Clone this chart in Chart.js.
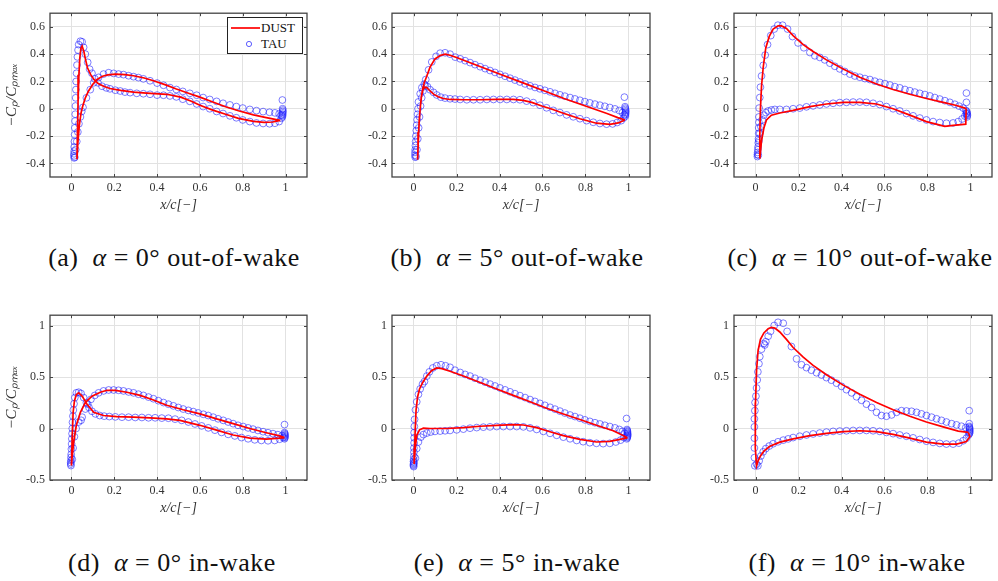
<!DOCTYPE html>
<html lang="en">
<head>
<meta charset="UTF-8">
<title>Pressure coefficient, DUST vs TAU</title>
<script src="https://cdn.jsdelivr.net/npm/chart.js@4.4.0/dist/chart.umd.min.js"></script>
<style>
  body { margin: 0; background: #fff; }
  #fig { position: relative; width: 998px; height: 581px; overflow: hidden; font-family: "Liberation Serif", serif; }
  #fig canvas { position: absolute; }
  .cap { position: absolute; width: 420px; text-align: center; font-size: 26px; letter-spacing: 0.5px; line-height: 30px; color: #111; white-space: nowrap; }
  .legend { position: absolute; left: 227px; top: 17px; width: 74px; height: 35px; border: 1px solid #222; background: #fff; font-size: 13px; color: #111; }
  .legend div { position: absolute; left: 0; height: 16px; line-height: 16px; }
  .legend span { position: absolute; left: 33px; }
</style>
</head>
<body>
<div id="fig"></div>

<script>
// tick values
const xTicks = [0, 0.2, 0.4, 0.6, 0.8, 1];
const yTicksTop = [-0.4, -0.2, 0, 0.2, 0.4, 0.6];
const yTicksBot = [-0.5, 0, 0.5, 1];

// (a) alpha = 0, out-of-wake  -- DUST surfaces, TAU points  [x/c, -Cp/Cpmax]
const aDust1 = [[0.026,-0.37],[0.028,-0.2],[0.031,0.05],[0.035,0.25],[0.039,0.37],[0.044,0.44],[0.05,0.46],[0.058,0.42],[0.066,0.36],[0.075,0.3],[0.09,0.25],[0.105,0.215],[0.125,0.185],[0.15,0.165],[0.18,0.148],[0.23,0.135],[0.29,0.122],[0.35,0.115],[0.445,0.106],[0.51,0.085],[0.56,0.055],[0.6,0.026],[0.66,-0.01],[0.72,-0.04],[0.78,-0.07],[0.85,-0.092],[0.9,-0.1],[0.94,-0.097],[0.975,-0.085]];
const aDust2 = [[0.026,-0.37],[0.03,-0.25],[0.037,-0.12],[0.045,-0.03],[0.053,0.02],[0.065,0.08],[0.08,0.13],[0.1,0.18],[0.12,0.215],[0.145,0.238],[0.17,0.248],[0.205,0.253],[0.25,0.25],[0.29,0.242],[0.34,0.225],[0.383,0.205],[0.44,0.175],[0.49,0.145],[0.55,0.112],[0.6,0.085],[0.66,0.05],[0.72,0.015],[0.78,-0.015],[0.85,-0.045],[0.91,-0.065],[0.957,-0.08],[0.975,-0.085]];
const aTau1 = [[0.013,-0.36],[0.012,-0.345],[0.012,-0.33],[0.013,-0.31],[0.013,-0.28],[0.014,-0.24],[0.015,-0.19],[0.016,-0.14],[0.017,-0.09],[0.018,-0.04],[0.019,0.02],[0.02,0.08],[0.021,0.14],[0.022,0.2],[0.024,0.26],[0.026,0.32],[0.028,0.38],[0.031,0.43],[0.034,0.47],[0.042,0.495],[0.05,0.49],[0.057,0.45],[0.065,0.4],[0.076,0.34],[0.085,0.29],[0.096,0.26],[0.109,0.22],[0.124,0.19],[0.143,0.165],[0.163,0.153],[0.18,0.146],[0.205,0.136],[0.228,0.13],[0.25,0.122],[0.274,0.118],[0.305,0.113],[0.336,0.11],[0.367,0.106],[0.4,0.1],[0.43,0.099],[0.46,0.094],[0.49,0.087],[0.52,0.07],[0.553,0.054],[0.585,0.035],[0.615,0.016],[0.646,0.0],[0.678,-0.02],[0.708,-0.035],[0.74,-0.052],[0.77,-0.066],[0.8,-0.082],[0.833,-0.094],[0.864,-0.104],[0.895,-0.108],[0.925,-0.11],[0.95,-0.106],[0.97,-0.094],[0.98,-0.07]];
const aTau2 = [[0.016,-0.355],[0.02,-0.3],[0.025,-0.24],[0.03,-0.17],[0.035,-0.11],[0.042,-0.06],[0.048,-0.02],[0.054,0.01],[0.07,0.08],[0.088,0.14],[0.104,0.19],[0.127,0.23],[0.15,0.254],[0.174,0.264],[0.197,0.259],[0.22,0.254],[0.243,0.25],[0.267,0.242],[0.29,0.235],[0.313,0.228],[0.336,0.219],[0.367,0.205],[0.4,0.188],[0.43,0.172],[0.46,0.155],[0.49,0.141],[0.52,0.127],[0.553,0.113],[0.585,0.099],[0.615,0.082],[0.646,0.068],[0.678,0.054],[0.708,0.04],[0.74,0.028],[0.77,0.016],[0.8,0.005],[0.833,-0.005],[0.864,-0.014],[0.895,-0.021],[0.925,-0.026],[0.95,-0.03],[0.97,-0.038],[0.98,-0.047],[0.985,-0.06],[0.986,-0.05],[0.986,-0.04],[0.987,-0.03],[0.987,-0.02],[0.987,-0.01],[0.986,0.0],[0.985,0.064]];

// (b) alpha = 5, out-of-wake
const bDust1 = [[0.019,-0.374],[0.021,-0.28],[0.024,-0.17],[0.027,-0.08],[0.031,0.0],[0.036,0.08],[0.042,0.14],[0.05,0.19],[0.062,0.24],[0.077,0.305],[0.1,0.365],[0.124,0.39],[0.147,0.4],[0.17,0.392],[0.2,0.375],[0.3,0.315],[0.4,0.255],[0.5,0.195],[0.6,0.135],[0.7,0.075],[0.8,0.02],[0.9,-0.035],[0.95,-0.065],[0.983,-0.082]];
const bDust2 = [[0.019,-0.374],[0.022,-0.25],[0.026,-0.1],[0.031,0.0],[0.037,0.09],[0.044,0.14],[0.052,0.158],[0.062,0.155],[0.077,0.13],[0.095,0.105],[0.115,0.088],[0.139,0.075],[0.17,0.068],[0.232,0.066],[0.31,0.066],[0.387,0.068],[0.464,0.068],[0.51,0.061],[0.55,0.047],[0.6,0.018],[0.635,0.002],[0.697,-0.033],[0.774,-0.073],[0.851,-0.106],[0.913,-0.115],[0.952,-0.104],[0.983,-0.082]];
const bTau1 = [[0.008,-0.355],[0.007,-0.34],[0.007,-0.32],[0.008,-0.3],[0.009,-0.27],[0.01,-0.24],[0.011,-0.2],[0.013,-0.16],[0.015,-0.12],[0.017,-0.08],[0.019,-0.04],[0.021,0.0],[0.023,0.05],[0.031,0.11],[0.039,0.155],[0.05,0.18],[0.057,0.214],[0.07,0.285],[0.085,0.343],[0.105,0.384],[0.124,0.407],[0.147,0.41],[0.17,0.4],[0.194,0.378],[0.217,0.366],[0.24,0.352],[0.263,0.338],[0.286,0.323],[0.31,0.308],[0.333,0.294],[0.356,0.28],[0.379,0.266],[0.402,0.252],[0.426,0.238],[0.449,0.224],[0.472,0.21],[0.495,0.196],[0.519,0.182],[0.542,0.168],[0.565,0.156],[0.588,0.146],[0.611,0.135],[0.635,0.124],[0.658,0.113],[0.681,0.102],[0.704,0.092],[0.728,0.082],[0.751,0.072],[0.774,0.062],[0.797,0.052],[0.82,0.043],[0.844,0.034],[0.867,0.026],[0.89,0.018],[0.913,0.009],[0.937,-0.001],[0.957,-0.013],[0.972,-0.028],[0.981,-0.045]];
const bTau2 = [[0.012,-0.35],[0.016,-0.3],[0.02,-0.22],[0.024,-0.14],[0.028,-0.06],[0.033,0.02],[0.038,0.08],[0.044,0.13],[0.054,0.172],[0.065,0.162],[0.077,0.139],[0.093,0.12],[0.108,0.101],[0.127,0.085],[0.147,0.078],[0.17,0.073],[0.193,0.071],[0.217,0.068],[0.248,0.066],[0.279,0.066],[0.31,0.066],[0.341,0.068],[0.372,0.068],[0.403,0.068],[0.434,0.068],[0.465,0.068],[0.495,0.066],[0.526,0.056],[0.557,0.045],[0.588,0.026],[0.619,0.007],[0.65,-0.012],[0.681,-0.028],[0.712,-0.045],[0.743,-0.059],[0.774,-0.073],[0.805,-0.087],[0.836,-0.099],[0.867,-0.108],[0.898,-0.113],[0.926,-0.111],[0.947,-0.101],[0.966,-0.087],[0.977,-0.068],[0.985,-0.056],[0.986,-0.045],[0.986,-0.035],[0.987,-0.025],[0.987,-0.015],[0.986,-0.005],[0.985,0.005],[0.984,0.015],[0.981,0.085]];

// (c) alpha = 10, out-of-wake
const cDust1 = [[0.02,-0.365],[0.02,-0.19],[0.023,0.0],[0.028,0.165],[0.036,0.306],[0.048,0.447],[0.064,0.53],[0.082,0.584],[0.105,0.607],[0.121,0.607],[0.144,0.588],[0.175,0.536],[0.222,0.47],[0.268,0.419],[0.33,0.358],[0.408,0.292],[0.485,0.231],[0.563,0.181],[0.64,0.141],[0.718,0.106],[0.795,0.075],[0.873,0.047],[0.935,0.024],[0.974,0.005],[0.98,0.0]];
const cDust2 = [[0.02,-0.365],[0.028,-0.235],[0.039,-0.141],[0.051,-0.082],[0.074,-0.047],[0.113,-0.031],[0.175,-0.012],[0.253,0.016],[0.33,0.035],[0.408,0.047],[0.485,0.047],[0.563,0.035],[0.64,0.0],[0.718,-0.047],[0.795,-0.094],[0.88,-0.129],[0.92,-0.122],[0.978,-0.113],[0.98,0.0]];
const cTau1 = [[0.009,-0.35],[0.009,-0.335],[0.01,-0.32],[0.011,-0.3],[0.012,-0.28],[0.013,-0.25],[0.014,-0.22],[0.015,-0.18],[0.015,-0.14],[0.016,-0.1],[0.016,-0.06],[0.017,0.005],[0.02,0.082],[0.023,0.158],[0.028,0.24],[0.036,0.318],[0.045,0.393],[0.056,0.47],[0.071,0.536],[0.087,0.584],[0.104,0.612],[0.126,0.612],[0.149,0.584],[0.172,0.529],[0.198,0.482],[0.225,0.447],[0.253,0.412],[0.276,0.388],[0.299,0.376],[0.322,0.358],[0.346,0.334],[0.369,0.311],[0.392,0.292],[0.415,0.273],[0.439,0.254],[0.462,0.24],[0.485,0.231],[0.509,0.221],[0.532,0.214],[0.555,0.202],[0.578,0.193],[0.602,0.184],[0.625,0.174],[0.648,0.162],[0.671,0.153],[0.695,0.141],[0.718,0.132],[0.741,0.122],[0.764,0.113],[0.788,0.104],[0.811,0.094],[0.834,0.082],[0.857,0.071],[0.881,0.059],[0.904,0.047],[0.927,0.033],[0.947,0.019],[0.966,0.005],[0.978,-0.012],[0.982,-0.02],[0.984,-0.03],[0.985,-0.04],[0.985,-0.05],[0.984,-0.06],[0.981,0.047],[0.981,0.115]];
const cTau2 = [[0.013,-0.34],[0.016,-0.235],[0.02,-0.18],[0.025,-0.13],[0.031,-0.082],[0.039,-0.047],[0.048,-0.028],[0.059,-0.016],[0.074,-0.009],[0.09,-0.005],[0.113,-0.005],[0.144,-0.005],[0.175,0.0],[0.206,0.005],[0.237,0.014],[0.268,0.021],[0.299,0.028],[0.33,0.035],[0.361,0.04],[0.392,0.045],[0.423,0.047],[0.454,0.049],[0.485,0.049],[0.516,0.047],[0.547,0.04],[0.578,0.031],[0.609,0.016],[0.64,0.0],[0.671,-0.016],[0.702,-0.035],[0.733,-0.052],[0.764,-0.068],[0.795,-0.082],[0.826,-0.094],[0.857,-0.101],[0.888,-0.106],[0.919,-0.104],[0.943,-0.094],[0.961,-0.075],[0.974,-0.054],[0.981,-0.035]];

// (d) alpha = 0, in-wake
const dDust1 = [[0.0,-0.36],[0.003,-0.126],[0.008,0.157],[0.014,0.267],[0.023,0.33],[0.034,0.346],[0.05,0.314],[0.073,0.236],[0.104,0.157],[0.15,0.126],[0.212,0.116],[0.29,0.11],[0.367,0.104],[0.445,0.094],[0.507,0.079],[0.6,0.031],[0.678,-0.016],[0.755,-0.063],[0.833,-0.094],[0.91,-0.104],[0.972,-0.094],[0.995,-0.088]];
const dDust2 = [[0.0,-0.36],[0.003,-0.283],[0.011,-0.126],[0.023,0.031],[0.042,0.157],[0.065,0.252],[0.096,0.314],[0.135,0.352],[0.166,0.371],[0.205,0.371],[0.259,0.352],[0.321,0.321],[0.383,0.277],[0.445,0.226],[0.522,0.182],[0.6,0.142],[0.678,0.094],[0.755,0.047],[0.833,0.0],[0.91,-0.041],[0.972,-0.072],[0.995,-0.088]];
const dTau1 = [[-0.002,-0.36],[-0.003,-0.345],[-0.003,-0.33],[-0.002,-0.31],[-0.002,-0.28],[-0.001,-0.25],[0.0,-0.2],[0.001,-0.15],[0.002,-0.1],[0.003,-0.05],[0.004,0.0],[0.005,0.06],[0.007,0.12],[0.009,0.18],[0.012,0.24],[0.016,0.3],[0.023,0.346],[0.034,0.352],[0.045,0.34],[0.057,0.3],[0.07,0.25],[0.082,0.204],[0.096,0.167],[0.112,0.142],[0.132,0.126],[0.153,0.12],[0.177,0.116],[0.205,0.113],[0.236,0.11],[0.267,0.11],[0.298,0.107],[0.329,0.107],[0.36,0.104],[0.391,0.104],[0.422,0.101],[0.453,0.1],[0.484,0.091],[0.515,0.079],[0.546,0.063],[0.577,0.044],[0.608,0.025],[0.639,0.006],[0.67,-0.016],[0.701,-0.038],[0.732,-0.057],[0.763,-0.072],[0.794,-0.088],[0.825,-0.1],[0.856,-0.11],[0.887,-0.116],[0.918,-0.119],[0.949,-0.116],[0.972,-0.104],[0.988,-0.088]];
const dTau2 = [[0.004,-0.3],[0.008,-0.19],[0.014,-0.08],[0.022,0.0],[0.034,0.063],[0.045,0.08],[0.05,0.11],[0.065,0.189],[0.076,0.236],[0.091,0.283],[0.109,0.321],[0.127,0.346],[0.15,0.365],[0.174,0.374],[0.197,0.374],[0.22,0.371],[0.243,0.365],[0.267,0.355],[0.29,0.346],[0.313,0.333],[0.336,0.321],[0.36,0.305],[0.383,0.289],[0.406,0.27],[0.43,0.252],[0.453,0.236],[0.476,0.22],[0.499,0.204],[0.522,0.189],[0.546,0.176],[0.569,0.164],[0.592,0.151],[0.616,0.138],[0.639,0.126],[0.662,0.11],[0.685,0.094],[0.709,0.079],[0.732,0.063],[0.755,0.047],[0.778,0.031],[0.802,0.019],[0.825,0.006],[0.848,-0.006],[0.871,-0.019],[0.895,-0.031],[0.918,-0.041],[0.941,-0.05],[0.964,-0.06],[0.984,-0.069],[0.995,-0.1],[0.996,-0.09],[0.997,-0.08],[0.997,-0.07],[0.997,-0.06],[0.996,-0.05],[0.995,-0.04],[0.995,0.038]];

// (e) alpha = 5, in-wake
const eDust1 = [[0.003,-0.344],[0.005,-0.194],[0.008,-0.006],[0.012,0.181],[0.019,0.306],[0.028,0.384],[0.043,0.447],[0.062,0.509],[0.085,0.563],[0.108,0.588],[0.132,0.581],[0.17,0.556],[0.232,0.509],[0.31,0.447],[0.387,0.384],[0.464,0.322],[0.542,0.259],[0.619,0.197],[0.697,0.141],[0.774,0.088],[0.851,0.031],[0.929,-0.022],[0.975,-0.069],[0.995,-0.091]];
const eDust2 = [[0.003,-0.344],[0.008,-0.194],[0.015,-0.069],[0.028,-0.013],[0.046,0.003],[0.077,0.0],[0.155,0.0],[0.232,0.009],[0.31,0.022],[0.387,0.031],[0.464,0.038],[0.511,0.034],[0.573,0.009],[0.635,-0.031],[0.697,-0.069],[0.774,-0.106],[0.851,-0.131],[0.913,-0.125],[0.96,-0.106],[0.995,-0.091]];
const eTau1 = [[0.001,-0.37],[0.0,-0.36],[0.0,-0.35],[0.001,-0.34],[0.002,-0.33],[0.0,-0.32],[0.001,-0.3],[0.002,-0.27],[0.002,-0.23],[0.002,-0.19],[0.003,-0.14],[0.003,-0.09],[0.003,-0.04],[0.004,0.02],[0.005,0.088],[0.009,0.181],[0.015,0.259],[0.023,0.331],[0.031,0.384],[0.042,0.431],[0.051,0.456],[0.062,0.509],[0.074,0.55],[0.09,0.588],[0.108,0.609],[0.128,0.619],[0.149,0.609],[0.17,0.594],[0.193,0.566],[0.217,0.544],[0.24,0.525],[0.263,0.509],[0.286,0.488],[0.31,0.469],[0.333,0.45],[0.356,0.431],[0.379,0.413],[0.402,0.394],[0.426,0.375],[0.449,0.356],[0.472,0.338],[0.495,0.319],[0.519,0.3],[0.542,0.281],[0.565,0.263],[0.588,0.244],[0.611,0.225],[0.635,0.206],[0.658,0.188],[0.681,0.169],[0.704,0.15],[0.728,0.131],[0.751,0.116],[0.774,0.1],[0.797,0.084],[0.82,0.069],[0.844,0.056],[0.867,0.044],[0.89,0.031],[0.913,0.019],[0.937,0.006],[0.957,-0.009],[0.972,-0.028],[0.983,-0.047]];
const eTau2 = [[0.009,-0.288],[0.015,-0.194],[0.023,-0.131],[0.034,-0.084],[0.046,-0.059],[0.062,-0.044],[0.08,-0.034],[0.1,-0.028],[0.124,-0.025],[0.147,-0.022],[0.17,-0.019],[0.201,-0.013],[0.232,-0.006],[0.263,0.003],[0.294,0.009],[0.325,0.013],[0.356,0.016],[0.387,0.019],[0.418,0.019],[0.449,0.019],[0.48,0.019],[0.511,0.016],[0.542,0.006],[0.573,-0.009],[0.604,-0.028],[0.635,-0.047],[0.666,-0.066],[0.697,-0.084],[0.728,-0.1],[0.759,-0.116],[0.789,-0.128],[0.82,-0.138],[0.851,-0.144],[0.882,-0.147],[0.913,-0.144],[0.941,-0.131],[0.963,-0.113],[0.978,-0.088],[0.992,-0.1],[0.994,-0.09],[0.995,-0.08],[0.996,-0.07],[0.996,-0.06],[0.996,-0.05],[0.995,-0.04],[0.995,-0.03],[0.994,-0.02],[0.993,-0.01],[0.991,0.097]];

// (f) alpha = 10, in-wake
const fDust1 = [[0.005,-0.362],[0.0,-0.189],[-0.002,0.0],[0.0,0.252],[0.005,0.566],[0.012,0.755],[0.023,0.865],[0.039,0.928],[0.059,0.969],[0.074,0.981],[0.09,0.975],[0.113,0.937],[0.144,0.865],[0.175,0.786],[0.222,0.692],[0.268,0.613],[0.33,0.522],[0.408,0.421],[0.485,0.333],[0.563,0.252],[0.64,0.182],[0.718,0.119],[0.795,0.063],[0.873,0.016],[0.943,-0.025],[0.99,-0.038]];
const fDust2 = [[0.005,-0.362],[0.012,-0.314],[0.023,-0.267],[0.039,-0.22],[0.067,-0.173],[0.113,-0.132],[0.175,-0.101],[0.253,-0.069],[0.33,-0.047],[0.408,-0.031],[0.485,-0.022],[0.563,-0.031],[0.64,-0.057],[0.718,-0.094],[0.795,-0.132],[0.873,-0.151],[0.935,-0.151],[0.981,-0.126],[0.997,-0.079],[0.99,-0.038]];
const fTau1 = [[-0.003,-0.362],[-0.005,-0.283],[-0.005,-0.189],[-0.005,-0.094],[-0.005,0.016],[-0.005,0.094],[-0.003,0.173],[-0.002,0.252],[0.002,0.314],[0.005,0.393],[0.008,0.472],[0.011,0.55],[0.016,0.629],[0.02,0.698],[0.028,0.77],[0.039,0.824],[0.043,0.811],[0.048,0.843],[0.059,0.896],[0.07,0.943],[0.087,1.0],[0.105,1.031],[0.129,1.022],[0.147,0.943],[0.167,0.796],[0.191,0.676],[0.214,0.619],[0.237,0.591],[0.26,0.566],[0.284,0.541],[0.307,0.519],[0.33,0.494],[0.353,0.469],[0.377,0.44],[0.4,0.409],[0.423,0.377],[0.447,0.346],[0.47,0.308],[0.493,0.274],[0.516,0.236],[0.54,0.204],[0.563,0.157],[0.586,0.126],[0.609,0.119],[0.633,0.132],[0.656,0.157],[0.679,0.173],[0.702,0.17],[0.726,0.167],[0.749,0.157],[0.772,0.142],[0.795,0.126],[0.819,0.11],[0.842,0.094],[0.865,0.079],[0.888,0.063],[0.912,0.047],[0.935,0.035],[0.958,0.022],[0.978,0.009]];
const fTau2 = [[0.005,-0.346],[0.011,-0.362],[0.017,-0.314],[0.025,-0.267],[0.036,-0.226],[0.048,-0.195],[0.064,-0.17],[0.082,-0.148],[0.105,-0.129],[0.129,-0.113],[0.152,-0.101],[0.175,-0.088],[0.206,-0.075],[0.237,-0.063],[0.268,-0.053],[0.299,-0.044],[0.33,-0.035],[0.361,-0.028],[0.392,-0.025],[0.423,-0.022],[0.454,-0.019],[0.485,-0.019],[0.516,-0.019],[0.547,-0.022],[0.578,-0.028],[0.609,-0.038],[0.64,-0.05],[0.671,-0.063],[0.702,-0.075],[0.733,-0.091],[0.764,-0.107],[0.795,-0.123],[0.826,-0.135],[0.857,-0.145],[0.888,-0.151],[0.919,-0.151],[0.946,-0.142],[0.966,-0.119],[0.981,-0.094],[0.991,-0.063],[0.995,-0.05],[0.996,-0.04],[0.996,-0.03],[0.996,-0.02],[0.996,-0.01],[0.996,0.0],[0.995,0.01],[0.994,0.02],[0.994,0.047],[0.994,0.173]];

const captions = [
  '(a)&nbsp; <i>α</i> = 0° out-of-wake', '(b)&nbsp; <i>α</i> = 5° out-of-wake', '(c)&nbsp; <i>α</i> = 10° out-of-wake',
  '(d)&nbsp; <i>α</i> = 0° in-wake', '(e)&nbsp; <i>α</i> = 5° in-wake', '(f)&nbsp; <i>α</i> = 10° in-wake'
];

// plot boxes in page pixels
const panels = [
  { L: 50,  T: 7,   R: 307, B: 177, yMin: -0.5, yMax: 0.7, yTicks: yTicksTop, d1: aDust1, d2: aDust2, t1: aTau1, t2: aTau2, yTitle: true,  capX: 174, capY: 243 },
  { L: 392, T: 7,   R: 650, B: 177, yMin: -0.5, yMax: 0.7, yTicks: yTicksTop, d1: bDust1, d2: bDust2, t1: bTau1, t2: bTau2, yTitle: false, capX: 517, capY: 243 },
  { L: 734, T: 7,   R: 992, B: 177, yMin: -0.5, yMax: 0.7, yTicks: yTicksTop, d1: cDust1, d2: cDust2, t1: cTau1, t2: cTau2, yTitle: false, capX: 860, capY: 243 },
  { L: 50,  T: 309, R: 307, B: 480, yMin: -0.5, yMax: 1.1, yTicks: yTicksBot, d1: dDust1, d2: dDust2, t1: dTau1, t2: dTau2, yTitle: true,  capX: 172, capY: 548 },
  { L: 392, T: 309, R: 650, B: 480, yMin: -0.5, yMax: 1.1, yTicks: yTicksBot, d1: eDust1, d2: eDust2, t1: eTau1, t2: eTau2, yTitle: false, capX: 517, capY: 548 },
  { L: 734, T: 309, R: 992, B: 480, yMin: -0.5, yMax: 1.1, yTicks: yTicksBot, d1: fDust1, d2: fDust2, t1: fTau1, t2: fTau2, yTitle: false, capX: 857, capY: 548 }
];

const Y_W = 48, X_H = 40, PAD = 6;
const SERIF = '"Liberation Serif", serif';
const toPts = arr => arr.map(p => ({ x: p[0], y: p[1] }));

// box round the axes with small inward ticks, matlab style
const framePlugin = {
  id: 'frame',
  afterDraw(chart) {
    const { ctx, chartArea: a, scales } = chart;
    ctx.save();
    ctx.strokeStyle = '#444';
    ctx.lineWidth = 1.3;
    ctx.strokeRect(a.left, a.top, a.right - a.left, a.bottom - a.top);
    ctx.beginPath();
    scales.x.ticks.forEach(t => {
      const px = Math.round(scales.x.getPixelForValue(t.value)) + 0.5;
      ctx.moveTo(px, a.bottom); ctx.lineTo(px, a.bottom - 3);
      ctx.moveTo(px, a.top); ctx.lineTo(px, a.top + 3);
    });
    scales.y.ticks.forEach(t => {
      const py = Math.round(scales.y.getPixelForValue(t.value)) + 0.5;
      ctx.moveTo(a.left, py); ctx.lineTo(a.left + 3, py);
      ctx.moveTo(a.right, py); ctx.lineTo(a.right - 3, py);
    });
    ctx.lineWidth = 1;
    ctx.stroke();
    ctx.restore();
  }
};

const fig = document.getElementById('fig');

panels.forEach((p, i) => {
  const cv = document.createElement('canvas');
  const w = (p.R - p.L) + Y_W + PAD;
  const h = (p.B - p.T) + PAD + X_H;
  cv.width = w; cv.height = h;
  cv.style.left = (p.L - Y_W) + 'px';
  cv.style.top = (p.T - PAD) + 'px';
  cv.style.width = w + 'px'; cv.style.height = h + 'px';
  fig.appendChild(cv);

  const loop = p.d1.slice().reverse().concat(p.d2.slice(1));

  new Chart(cv, {
    type: 'scatter',
    data: {
      datasets: [
        { label: 'DUST', data: toPts(loop), showLine: true, borderColor: '#ff0000', borderWidth: 1.7,
          pointRadius: 0, fill: false, tension: 0 },
        { label: 'TAU', data: toPts(p.t1.concat(p.t2)), showLine: false, pointStyle: 'circle',
          pointRadius: 3.4, borderWidth: 0.8, pointBorderColor: 'rgba(30,30,255,0.72)',
          pointBackgroundColor: 'rgba(0,0,0,0)' }
      ]
    },
    options: {
      responsive: false,
      animation: false,
      devicePixelRatio: 1,
      layout: { padding: { left: 0, top: PAD, right: PAD, bottom: 0 } },
      plugins: { legend: { display: false }, tooltip: { enabled: false } },
      scales: {
        x: {
          type: 'linear', min: -0.1, max: 1.1,
          afterBuildTicks: s => { s.ticks = xTicks.map(v => ({ value: v })); },
          afterFit: s => { s.height = X_H; },
          grid: { color: '#e2e2e2', drawTicks: false },
          border: { display: false },
          ticks: { padding: 4, color: '#333', autoSkip: false, maxRotation: 0,
                   font: { family: SERIF, size: 12 }, callback: v => String(v) },
          title: { display: true, text: 'x/c[−]', color: '#333', padding: { top: 0, bottom: 3 },
                   font: { family: SERIF, size: 14, style: 'italic' } }
        },
        y: {
          type: 'linear', min: p.yMin, max: p.yMax,
          afterBuildTicks: s => { s.ticks = p.yTicks.map(v => ({ value: v })); },
          afterFit: s => { s.width = Y_W; },
          grid: { color: '#e2e2e2', drawTicks: false },
          border: { display: false },
          ticks: { padding: 5, color: '#333', autoSkip: false,
                   font: { family: SERIF, size: 12 }, callback: v => String(v) },
          title: { display: p.yTitle, text: '−Cₚ/Cₚₘₐₓ', color: '#333', padding: { top: 1, bottom: 0 },
                   font: { family: SERIF, size: 15, style: 'italic' } }
        }
      }
    },
    plugins: [framePlugin]
  });

  const cap = document.createElement('div');
  cap.className = 'cap';
  cap.innerHTML = captions[i];
  cap.style.left = (p.capX - 210) + 'px';
  cap.style.top = p.capY + 'px';
  fig.appendChild(cap);
});

// legend box of panel (a)
const lg = document.createElement('div');
lg.className = 'legend';
lg.innerHTML =
  '<div style="top:2px;width:74px"><svg width="32" height="16" style="position:absolute;left:2px;top:0">' +
  '<line x1="1" y1="8" x2="30" y2="8" stroke="#ff0000" stroke-width="1.7"/></svg><span>DUST</span></div>' +
  '<div style="top:18px;width:74px"><svg width="32" height="16" style="position:absolute;left:2px;top:0">' +
  '<circle cx="19" cy="8" r="2.6" fill="none" stroke="rgba(30,30,255,0.8)" stroke-width="0.9"/></svg><span>TAU</span></div>';
fig.appendChild(lg);
</script>
</body>
</html>
